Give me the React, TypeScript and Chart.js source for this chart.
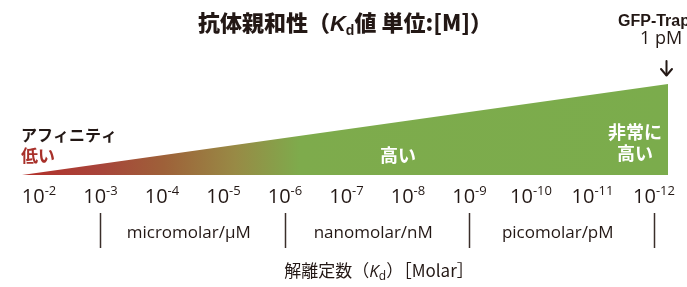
import React, { useEffect, useRef } from "react";
import { Chart, registerables } from "chart.js";

Chart.register(...registerables);

// ---- data ----
const exponents = [2, 3, 4, 5, 6, 7, 8, 9, 10, 11, 12]; // Kd = 10^-n
const tickBase = "10";
const tickSuper = ["-2", "-3", "-4", "-5", "-6", "-7", "-8", "-9", "-10", "-11", "-12"];
const rangeBounds = [3, 6, 9, 12];
const rangeLabels = ["micromolar/µM", "nanomolar/nM", "picomolar/pM"];
const wedgeX = [1.7236, 12.228]; // affinity wedge extent (in -log10 Kd)
const wedgeY = [0, 1]; // relative affinity (low -> very high)
const markerName = "GFP-Trap";
const markerValue = "1 pM";

const JP = '"Noto Sans CJK JP", "Noto Sans", sans-serif';
const LAT = '"Open Sans", "Noto Sans", sans-serif';

type Part = { t: string; font: string; dy?: number };

function drawRich(ctx: CanvasRenderingContext2D, parts: Part[], x: number, y: number, align: "left" | "center" | "right", color: string) {
  let total = 0;
  const widths = parts.map((p) => {
    ctx.font = p.font;
    const w = ctx.measureText(p.t).width;
    total += w;
    return w;
  });
  let cx = align === "left" ? x : align === "center" ? x - total / 2 : x - total;
  ctx.fillStyle = color;
  ctx.textAlign = "left";
  ctx.textBaseline = "alphabetic";
  parts.forEach((p, i) => {
    ctx.font = p.font;
    ctx.fillText(p.t, cx, y + (p.dy || 0));
    cx += widths[i];
  });
}

const textPlugin = {
  id: "kdText",
  afterDraw(chart: any) {
    const ctx: CanvasRenderingContext2D = chart.ctx;
    const xs = chart.scales.x;
    const area = chart.chartArea;
    ctx.save();
    const dark = "#231815";

    // title
    drawRich(
      ctx,
      [
        { t: "抗体親和性（", font: `900 22px ${JP}` },
        { t: "K", font: `italic bold 22px "Liberation Sans", sans-serif` },
        { t: "d", font: `bold 14px "Liberation Sans", sans-serif`, dy: 4 },
        { t: "値 単位:[M]）", font: `900 22px ${JP}` },
      ],
      345,
      31,
      "center",
      dark
    );

    // marker label
    ctx.fillStyle = dark;
    ctx.textAlign = "left";
    ctx.font = `bold 16px "Liberation Sans", sans-serif`;
    ctx.fillText(markerName, 618, 26);
    ctx.textAlign = "center";
    ctx.font = `18px ${LAT}`;
    ctx.fillText(markerValue, 661, 44);
    const ax = Math.round(area.right - 2) + 0.5;
    ctx.strokeStyle = dark;
    ctx.lineWidth = 2;
    ctx.lineCap = "round";
    ctx.lineJoin = "round";
    ctx.beginPath();
    ctx.moveTo(ax, 61);
    ctx.lineTo(ax, 75);
    ctx.stroke();
    ctx.beginPath();
    ctx.moveTo(ax - 5.5, 69);
    ctx.lineTo(ax, 75.5);
    ctx.lineTo(ax + 5.5, 69);
    ctx.stroke();

    // left labels
    ctx.textAlign = "left";
    ctx.font = `bold 16px ${JP}`;
    ctx.fillStyle = dark;
    ctx.fillText("アフィニティ", 21, 141);
    ctx.font = `bold 17px ${JP}`;
    ctx.fillStyle = "#a8302a";
    ctx.fillText("低い", 21, 162);

    // white labels inside wedge
    ctx.fillStyle = "#ffffff";
    ctx.textAlign = "center";
    ctx.font = `bold 18px ${JP}`;
    ctx.fillText("高い", 398, 162);
    ctx.fillText("非常に", 635, 139);
    ctx.fillText("高い", 635, 160);

    // tick labels
    exponents.forEach((e, i) => {
      const px = xs.getPixelForValue(e);
      drawRich(
        ctx,
        [
          { t: tickBase, font: `20px ${LAT}` },
          { t: tickSuper[i], font: `13px ${LAT}`, dy: -8 },
        ],
        px,
        203,
        "center",
        dark
      );
    });

    // range separators
    ctx.strokeStyle = "#3a2e2a";
    ctx.lineWidth = 1.5;
    ctx.lineCap = "butt";
    rangeBounds.forEach((b) => {
      const px = Math.round(xs.getPixelForValue(b)) + 0.5;
      ctx.beginPath();
      ctx.moveTo(px, 213);
      ctx.lineTo(px, 248);
      ctx.stroke();
    });
    ctx.fillStyle = dark;
    ctx.textAlign = "center";
    ctx.font = `17px ${LAT}`;
    rangeLabels.forEach((l, i) => {
      const a = xs.getPixelForValue(rangeBounds[i]);
      const b = xs.getPixelForValue(rangeBounds[i + 1]);
      ctx.fillText(l, (a + b) / 2 - 4, 238);
    });

    // axis title
    drawRich(
      ctx,
      [
        { t: "解離定数（", font: `17px ${JP}` },
        { t: "K", font: `italic 17px ${LAT}` },
        { t: "d", font: `12px ${LAT}`, dy: 3 },
        { t: "）［Molar］", font: `17px ${JP}` },
      ],
      379,
      277,
      "center",
      dark
    );
    ctx.restore();
  },
};

export default function App() {
  const ref = useRef<HTMLCanvasElement | null>(null);
  useEffect(() => {
    document.body.style.margin = "0";
    const canvas = ref.current;
    if (!canvas) return;
    const chart = new Chart(canvas, {
      type: "line",
      data: {
        datasets: [
          {
            data: wedgeX.map((x, i) => ({ x, y: wedgeY[i] })),
            borderWidth: 0,
            pointRadius: 0,
            fill: "origin",
            backgroundColor: (c: any) => {
              const area = c.chart.chartArea;
              if (!area) return "#7bac4c";
              const g = c.chart.ctx.createLinearGradient(area.left, 0, area.right, 0);
              g.addColorStop(0, "#b3302a");
              g.addColorStop(0.12, "#a8443a");
              g.addColorStop(0.22, "#9e6139");
              g.addColorStop(0.33, "#988a45");
              g.addColorStop(0.43, "#7eab4c");
              g.addColorStop(1, "#7bac4c");
              return g;
            },
          },
        ],
      },
      options: {
        animation: false,
        responsive: false,
        layout: { padding: { left: 22, right: 19, top: 84, bottom: 112 } },
        plugins: { legend: { display: false }, tooltip: { enabled: false }, title: { display: false } },
        scales: {
          x: { type: "linear", min: wedgeX[0], max: wedgeX[1], display: false },
          y: { type: "linear", min: 0, max: 1, display: false },
        },
      },
      plugins: [textPlugin],
    });
    return () => chart.destroy();
  }, []);
  return (
    <div style={{ width: 687, height: 287, background: "#fff" }}>
      <canvas ref={ref} width={687} height={287} style={{ display: "block" }} />
    </div>
  );
}
